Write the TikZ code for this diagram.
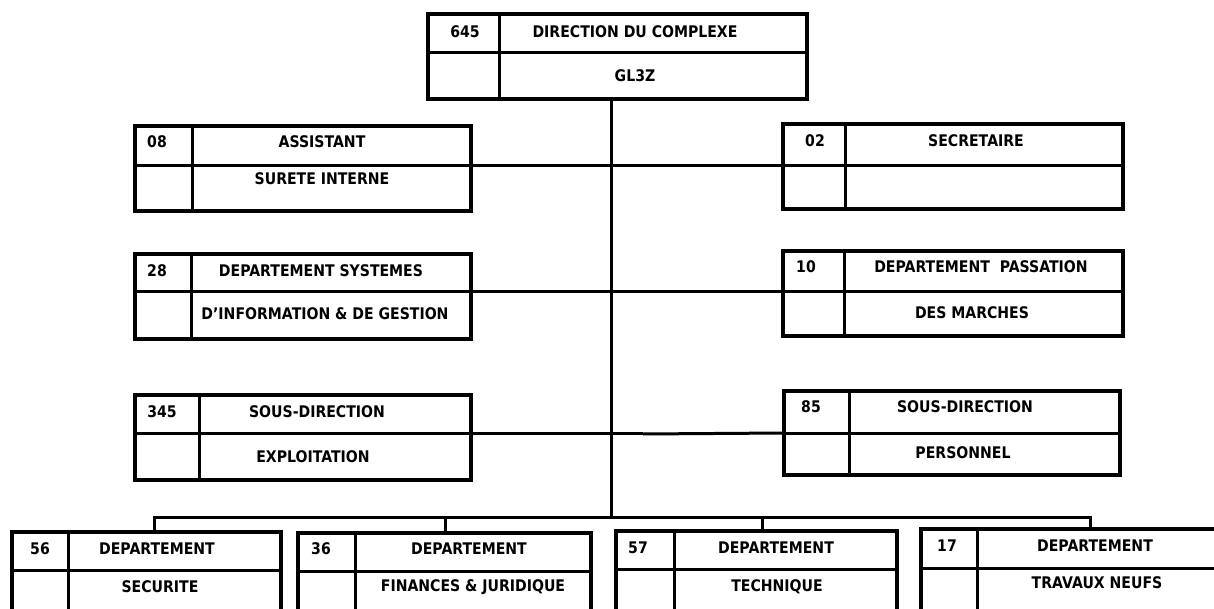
\documentclass[tikz,border=0pt]{standalone}
\usepackage{fontspec}
\newfontfamily\labfont{DejaVu Sans}[FakeStretch=0.88]
\newcommand\orgbox[7]{%
  \node[obox, minimum width=#4pt, minimum height=#5pt, anchor=north west] (#1) at (#2,#3) {};
  \draw[ln] ([xshift=#6pt]#1.north west) -- ([xshift=#6pt]#1.south west);
  \coordinate (#1-l) at ([yshift=-#7pt]#1.north west);
  \coordinate (#1-r) at ([yshift=-#7pt]#1.north east);
  \draw[ln] (#1-l) -- (#1-r);}
\begin{document}
\begin{tikzpicture}[x=1pt,y=-1pt,
  ln/.style={line width=3pt},
  obox/.style={draw, line width=3.2pt, rectangle, inner sep=0pt, outer sep=0pt},
  lab/.style={font=\labfont\bfseries\fontsize{16}{18}\selectfont, inner sep=0pt}]
\useasboundingbox (0,0) rectangle (1214,609);
\fill[white] (0,0) rectangle (1214,609);
\clip (0,0) rectangle (1214,609);
% boxes: name, x, y, w, h, divider offset, mid offset
\orgbox{dir}{428}{14}{379}{85}{71}{39}
\orgbox{asst}{135}{126}{336}{85}{57}{40}
\orgbox{sec}{783}{124}{340}{85}{62}{42}
\orgbox{si}{135}{254}{336}{85}{56}{38}
\orgbox{pas}{783}{251}{340}{85}{61}{41}
\orgbox{exp}{135}{395}{336}{85}{64}{38}
\orgbox{pers}{784}{391}{336}{84}{65}{42}
\orgbox{bA}{12}{532}{269}{95}{56}{38}
\orgbox{bB}{298}{533}{293}{95}{57}{38}
\orgbox{bC}{616}{531}{281}{95}{58}{38}
\orgbox{bD}{921}{529}{320}{95}{56}{39}
% connectors
\coordinate (bus) at (611,517);
\coordinate (d1) at (154,517);
\coordinate (d2) at (445,517);
\coordinate (d3) at (762,517);
\coordinate (d4) at (1090,517);
\coordinate (step) at (643,433);
\draw[ln] (dir.south -| bus) -- (bus);
\draw[ln] (asst-r) -- (sec-l);
\draw[ln] ([xshift=-2pt]si-l) -- (pas-l);
\draw[ln] (exp-r) -- (step);
\draw[ln] ([yshift=-1pt]step) -- (pers-l);
\draw[ln] (d1 |- bA.north) -- (d1) -- (d4) -- (d4 |- bD.north);
\draw[ln] (d2) -- (d2 |- bB.north);
\draw[ln] (d3) -- (d3 |- bC.north);
% texts
\node[lab] (t1a) at (465,32) {645};
\node[lab] (t1b) at (635,32) {DIRECTION DU COMPLEXE};
\node[lab] (t1c) at (635,76) {GL3Z};
\node[lab] (t2a) at (157,142) {08};
\node[lab] (t2b) at (322,142) {ASSISTANT};
\node[lab] (t2c) at (322,179) {SURETE INTERNE};
\node[lab] (t3a) at (815,141) {02};
\node[lab] (t3b) at (976,141) {SECRETAIRE};
\node[lab] (t4a) at (157,271) {28};
\node[lab] (t4b) at (321,271) {DEPARTEMENT SYSTEMES};
\node[lab] (t4c) at (325,314) {D’INFORMATION \& DE GESTION};
\node[lab] (t5a) at (806,267) {10};
\node[lab] (t5b) at (981,267) {DEPARTEMENT\ \ PASSATION};
\node[lab] (t5c) at (972,313) {DES MARCHES};
\node[lab] (t6a) at (162,412) {345};
\node[lab] (t6b) at (317,412) {SOUS-DIRECTION};
\node[lab] (t6c) at (313,457) {EXPLOITATION};
\node[lab] (t7a) at (811,407) {85};
\node[lab] (t7b) at (965,407) {SOUS-DIRECTION};
\node[lab] (t7c) at (963,453) {PERSONNEL};
\node[lab] (t8a) at (40,549) {56};
\node[lab] (t8b) at (157,549) {DEPARTEMENT};
\node[lab] (t8c) at (160,587) {SECURITE};
\node[lab] (t9a) at (321,549) {36};
\node[lab] (t9b) at (469,549) {DEPARTEMENT};
\node[lab] (t9c) at (473,587) {FINANCES \& JURIDIQUE};
\node[lab] (t10a) at (638,548) {57};
\node[lab] (t10b) at (776,548) {DEPARTEMENT};
\node[lab] (t10c) at (777,587) {TECHNIQUE};
\node[lab] (t11a) at (947,546) {17};
\node[lab] (t11b) at (1095,546) {DEPARTEMENT};
\node[lab] (t11c) at (1097,583) {TRAVAUX NEUFS};
\end{tikzpicture}
\end{document}
